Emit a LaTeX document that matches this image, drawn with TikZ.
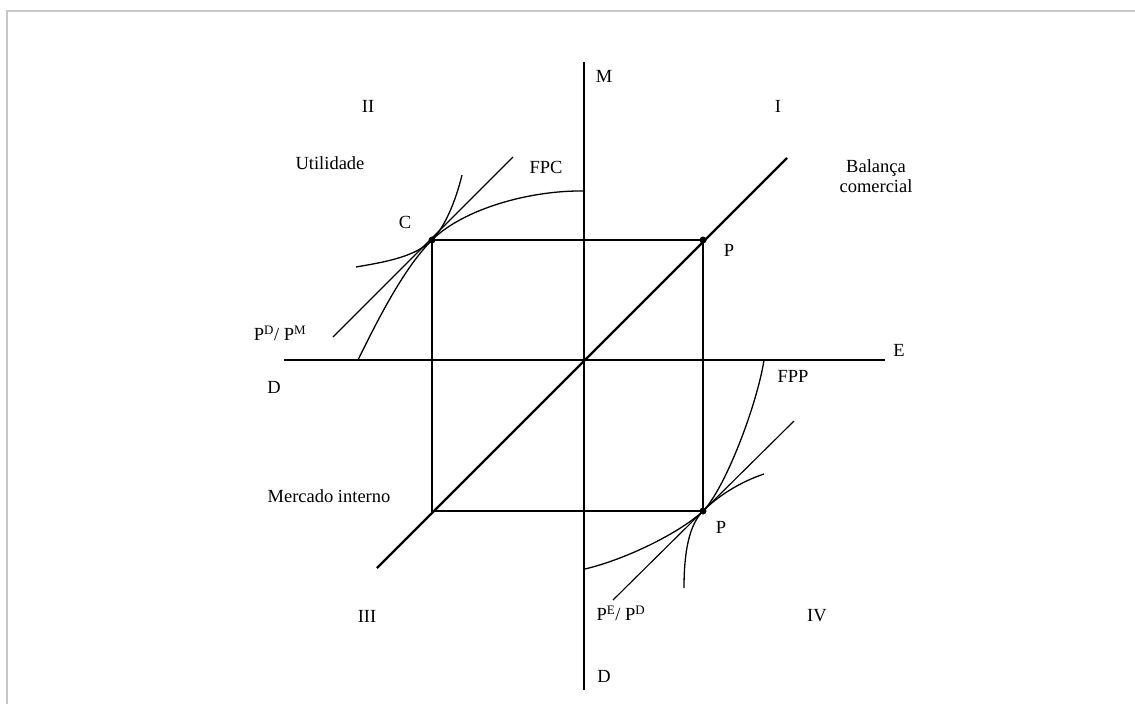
\documentclass[tikz,border=0pt]{standalone}
\usepackage{fontspec}
\setmainfont{Liberation Serif}
\begin{document}
\begin{tikzpicture}[x=1pt,y=-1pt,
  axis/.style={line width=2.4pt,black},
  thin/.style={line width=1.15pt,black},
  curve/.style={line width=1.3pt,black},
  lbl/.style={font=\fontsize{18.5}{21}\selectfont,inner sep=0pt,text=black},
  dot/.style={circle,fill=black,inner sep=0pt,minimum size=7pt}]
\useasboundingbox (0,0) rectangle (1135,704);
\draw[line width=2pt,color=black!22] (7,704) -- (7,11) -- (1135,11);
% coordinates
\coordinate (mtop) at (584,62);
\coordinate (mbot) at (584,690);
\coordinate (dleft) at (284,360);
\coordinate (eright) at (885,360);
\coordinate (dglo) at (377,568);
\coordinate (dghi) at (787,158);
\node[dot] (C) at (432,240) {};
\node[dot] (P1) at (703,240) {};
\node[dot] (P2) at (703,511) {};
\coordinate (MI) at (432,511);
% axes
\draw[axis] (mtop) -- (mbot);
\draw[axis] (dleft) -- (eright);
\draw[axis] (dglo) -- (dghi);
% rectangle
\draw[thin] (C.center) -- (P1.center) -- (P2.center) -- (MI) -- (C.center);
% price lines
\coordinate (pl1a) at (333,337);
\coordinate (pl1b) at (513,157);
\draw[thin] (pl1a) -- (pl1b);
\coordinate (pl2a) at (613,600);
\coordinate (pl2b) at (794,421);
\draw[thin] (pl2a) -- (pl2b);
% FPC
\coordinate (fpc0) at (358,360);
\coordinate (fpc1) at (585,191);
\draw[curve] (fpc0) .. controls (380,315) and (405,267) .. (C.center)
  .. controls (462,210) and (528,190) .. (fpc1);
% indifference curve (top)
\coordinate (u0) at (356,267);
\coordinate (u1) at (462,175);
\draw[curve] (u0) .. controls (385,262) and (415,257) .. (C.center)
  .. controls (445,227) and (456,200) .. (u1);
% FPP
\coordinate (fpp0) at (764,360);
\coordinate (fpp1) at (585,569);
\draw[curve] (fpp0) .. controls (757,405) and (725,489) .. (P2.center)
  .. controls (681,532) and (627,559) .. (fpp1);
% indifference curve (bottom)
\coordinate (v0) at (684,588);
\coordinate (v1) at (764,474);
\draw[curve] (v0) .. controls (684,552) and (689,525) .. (P2.center)
  .. controls (718,496) and (740,482) .. (v1);
% labels
\node[lbl] (lM) at (604,76) {M};
\node[lbl] (lI) at (778,106) {I};
\node[lbl] (lII) at (368,106) {II};
\node[lbl] (lUt) at (330,163) {Utilidade};
\node[lbl] (lFPC) at (546,167) {FPC};
\node[lbl] (lC) at (405,222) {C};
\node[lbl,align=center,font=\fontsize{18.5}{20}\selectfont] (lBal) at (876,176) {Balança\\comercial};
\node[lbl] (lP1) at (729,250) {P};
\node[lbl] (lPDPM) at (280,333) {P\textsuperscript{D}/ P\textsuperscript{M}};
\node[lbl] (lD1) at (274,387) {D};
\node[lbl] (lE) at (899,350) {E};
\node[lbl] (lFPP) at (793,376) {FPP};
\node[lbl] (lMI) at (329,496) {Mercado interno};
\node[lbl] (lP2) at (721,527) {P};
\node[lbl] (lIII) at (367,616) {III};
\node[lbl] (lPEPD) at (621,613) {P\textsuperscript{E}/ P\textsuperscript{D}};
\node[lbl] (lIV) at (817,616) {IV};
\node[lbl] (lD2) at (604,676) {D};
\end{tikzpicture}
\end{document}
